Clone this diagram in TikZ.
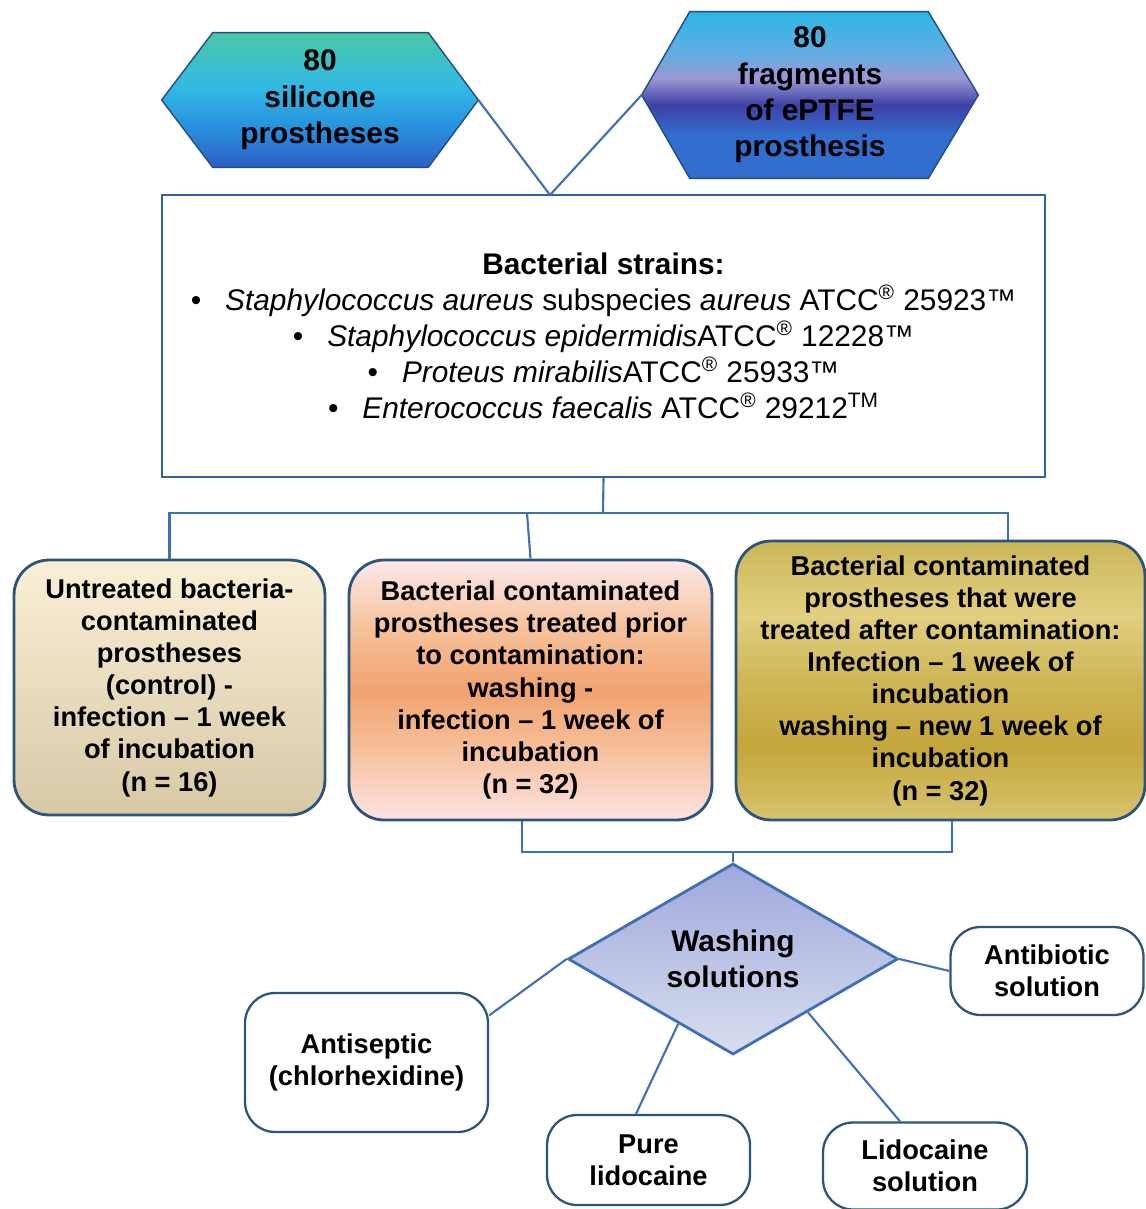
\documentclass[tikz,border=0pt]{standalone}
\usepackage{fontspec}
\setmainfont{Liberation Sans}
\usetikzlibrary{positioning,shapes.geometric,calc,backgrounds}
\definecolor{lnBlue}{RGB}{62,112,180}
\definecolor{bxEdge}{RGB}{44,84,124}
\definecolor{hxEdge}{RGB}{35,75,140}
\definecolor{stEdge}{RGB}{50,98,160}
\definecolor{hlBlue}{RGB}{45,95,195}
\definecolor{hlMid}{RGB}{40,145,222}
\definecolor{hlCyan}{RGB}{50,185,228}
\definecolor{hlTeal}{RGB}{75,200,165}
\definecolor{hrBlue}{RGB}{50,110,205}
\definecolor{hrIndigo}{RGB}{62,64,165}
\definecolor{hrLav}{RGB}{155,152,212}
\definecolor{hrSky}{RGB}{100,172,226}
\definecolor{hrCyan}{RGB}{45,182,228}
\definecolor{gdLow}{RGB}{215,196,112}
\definecolor{gdDark}{RGB}{196,166,58}
\definecolor{gdMid}{RGB}{206,182,88}
\definecolor{gdLight}{RGB}{226,207,128}
\definecolor{gdTop}{RGB}{202,182,88}
\definecolor{pcLow}{RGB}{252,228,225}
\definecolor{pcSoft}{RGB}{246,187,148}
\definecolor{pcMid}{RGB}{241,162,112}
\definecolor{pcUp}{RGB}{246,194,155}
\definecolor{pcTop}{RGB}{252,232,235}
\pgfdeclareverticalshading{hexLeft}{100bp}{color(0bp)=(hlBlue); color(25bp)=(hlBlue);
  color(40bp)=(hlMid); color(55bp)=(hlCyan); color(75bp)=(hlTeal); color(100bp)=(hlTeal)}
\pgfdeclareverticalshading{hexRight}{100bp}{color(0bp)=(hrBlue); color(25bp)=(hrBlue);
  color(38bp)=(hrBlue); color(47bp)=(hrIndigo); color(55bp)=(hrLav); color(62bp)=(hrSky);
  color(75bp)=(hrCyan); color(100bp)=(hrCyan)}
\pgfdeclareverticalshading{goldBand}{100bp}{color(0bp)=(gdLow); color(25bp)=(gdLow);
  color(38bp)=(gdDark); color(50bp)=(gdMid); color(62bp)=(gdLight); color(75bp)=(gdTop);
  color(100bp)=(gdTop)}
\pgfdeclareverticalshading{peachBand}{100bp}{color(0bp)=(pcLow); color(25bp)=(pcLow);
  color(40bp)=(pcSoft); color(50bp)=(pcMid); color(62bp)=(pcUp); color(75bp)=(pcTop);
  color(100bp)=(pcTop)}
\newcommand\hexfont{\fontsize{17}{20.7}\selectfont\bfseries}
\newcommand\grpfont{\fontsize{15.5}{18.3}\selectfont\bfseries}
\newcommand\strainfont{\fontsize{17}{20.5}\selectfont}

\begin{document}
\begin{tikzpicture}[x=0.02cm,y=-0.02cm,
			hexbox/.style={
				align=center,
				inner sep=0pt,
				font=\hexfont
			},
			hexrim/.style={
				draw=hxEdge,
				line width=0.8pt
			},
			grpbox/.style={
				rounded corners=0.7cm,
				draw=bxEdge,
				line width=1.6pt,
				align=center,
				inner sep=0pt,
				font=\grpfont
			},
			solbox/.style={
				rounded corners=0.6cm,
				draw=bxEdge,
				line width=1.3pt,
				fill=white,
				align=center,
				inner sep=0pt,
				font=\grpfont
			},
			link/.style={draw=lnBlue,line width=1.2pt}
			]
			\useasboundingbox (0,0) rectangle (1145,1209);
			\node[hexbox,minimum width=6.32cm,minimum height=2.68cm] (silicone) at (320,100) {
				80\\silicone\\prostheses
			};
			\node[hexbox,minimum width=6.72cm,minimum height=3.32cm] (eptfe) at (810,95) {
				80\\fragments\\of ePTFE\\prosthesis
			};
			\begin{scope}[on background layer]
				\path[hexrim,shading=hexLeft] (silicone.west) -- ([xshift=1.02cm]silicone.north west)
					-- ([xshift=-1cm]silicone.north east) -- (silicone.east)
					-- ([xshift=-1cm]silicone.south east) -- ([xshift=1.02cm]silicone.south west) -- cycle;
				\path[hexrim,shading=hexRight] (eptfe.west) -- ([xshift=0.96cm]eptfe.north west)
					-- ([xshift=-1cm]eptfe.north east) -- (eptfe.east)
					-- ([xshift=-1cm]eptfe.south east) -- ([xshift=0.96cm]eptfe.south west) -- cycle;
			\end{scope}
			\node[draw=stEdge,line width=1.2pt,fill=white,align=center,
				minimum width=17.66cm,minimum height=5.64cm,font=\strainfont] (strains) at (603.5,336) {
				\textbf{Bacterial strains:}\\
				\textbullet\hspace{0.8em}\textit{Staphylococcus aureus} subspecies \textit{aureus} ATCC\textsuperscript{®} 25923™\\
				\textbullet\hspace{0.8em}\textit{Staphylococcus epidermidis}ATCC\textsuperscript{®} 12228™\\
				\textbullet\hspace{0.8em}\textit{Proteus mirabilis}ATCC\textsuperscript{®} 25933™\\
				\textbullet\hspace{0.8em}\textit{Enterococcus faecalis} ATCC\textsuperscript{®} 29212\textsuperscript{TM}
			};
			\coordinate (meet) at (550,195);
			\draw[link] (silicone.east) -- (meet) -- (eptfe.west);

			\node[grpbox,top color={rgb,255:red,250;green,240;blue,215},
				bottom color={rgb,255:red,215;green,200;blue,165},
				minimum width=6.22cm,minimum height=5.1cm] (control) at (169.5,687.5) {
				Untreated bacteria-\\contaminated\\prostheses\\(control) -\\infection -- 1 week\\of incubation\\(n = 16)
			};
			\node[grpbox,shading=peachBand,
				minimum width=7.26cm,minimum height=5.2cm] (prior) at (530.5,690) {
				Bacterial contaminated\\prostheses treated prior\\to contamination:\\washing -\\infection -- 1 week of\\incubation\\(n = 32)
			};
			\node[grpbox,shading=goldBand,
				minimum width=8.18cm,minimum height=5.58cm] (after) at (940.5,680.5) {
				Bacterial contaminated\\prostheses that were\\treated after contamination:\\Infection -- 1 week of\\incubation\\washing -- new 1 week of\\incubation\\(n = 32)
			};
			\coordinate (split) at (603,513);
			\coordinate (midtap) at (527,513);
			\draw[link] (strains.south) -- (split);
			\draw[link] (control.north) |- (split) -| ([xshift=1.35cm]after.north);
			\draw[link] (prior.north) -- (midtap);

			\node[shape=diamond,draw=lnBlue,line width=1.6pt,inner sep=0pt,
				top color={rgb,255:red,160;green,168;blue,220},
				bottom color={rgb,255:red,215;green,222;blue,238},
				minimum width=6.6cm,minimum height=2.64cm,align=center,font=\hexfont] (wash) at (733,959) {
				Washing\\solutions
			};
			\coordinate (join) at (733,852);
			\draw[link] ([xshift=-0.17cm]prior.south) |- (join) -| ([xshift=0.23cm]after.south);
			\draw[link] (join) -- (wash.north);

			\node[solbox,minimum width=3.86cm,minimum height=1.76cm] (antibio) at (1047,971) {
				Antibiotic\\solution
			};
			\node[solbox,minimum width=4.86cm,minimum height=2.78cm] (antisep) at (366.5,1062.5) {
				Antiseptic\\(chlorhexidine)
			};
			\node[solbox,minimum width=4.06cm,minimum height=1.8cm] (purelido) at (648.5,1160) {
				Pure\\lidocaine
			};
			\node[solbox,minimum width=4.08cm,minimum height=1.74cm] (lidosol) at (925,1166) {
				Lidocaine\\solution
			};
			\draw[link] (wash.east) -- (antibio.west);
			\draw[link] (wash.west) -- (antisep.21);
			\draw[link] ($(wash.south)!0.33!(wash.west)$) -- ([xshift=-0.25cm]purelido.north);
			\draw[link] ($(wash.south)!0.45!(wash.east)$) -- ([xshift=-0.5cm]lidosol.north);
		\end{tikzpicture}
\end{document}
